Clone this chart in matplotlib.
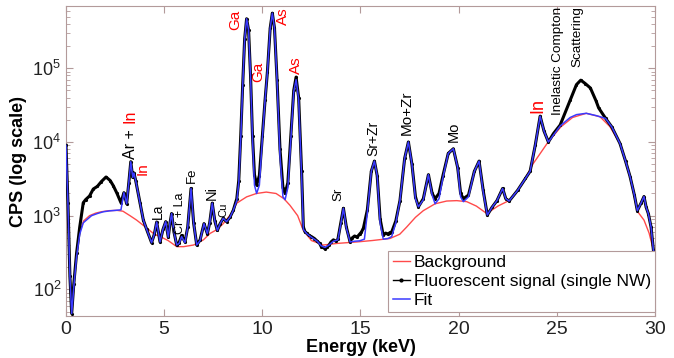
import matplotlib
matplotlib.use("Agg")
import matplotlib.pyplot as plt
from matplotlib.ticker import LogLocator, NullFormatter, MultipleLocator

plt.rcParams['font.family'] = ['Liberation Sans', 'DejaVu Sans']

# measured spectrum (energy in keV, counts per second)
signal_e = [0.00, 0.10, 0.20, 0.29, 0.40, 0.54, 0.70, 0.88, 1.00, 1.20, 1.39, 1.60, 1.80, 2.04,
            2.25, 2.41, 2.60, 2.80, 2.95, 3.09, 3.20, 3.30, 3.40, 3.46, 3.55, 3.77, 3.94, 4.11,
            4.36, 4.50, 4.62, 4.79, 4.94, 5.08, 5.21, 5.30, 5.38, 5.50, 5.64, 5.76, 5.89, 6.06,
            6.20, 6.37, 6.50, 6.66, 6.83, 7.03, 7.20, 7.32, 7.45, 7.58, 7.71, 7.85, 8.01, 8.18,
            8.35, 8.52, 8.70, 8.80, 8.90, 9.00, 9.10, 9.20, 9.30, 9.40, 9.50, 9.60, 9.71, 9.85,
            10.00, 10.14, 10.26, 10.40, 10.51, 10.62, 10.75, 10.90, 11.05, 11.16, 11.30, 11.45,
            11.60, 11.72, 11.85, 12.00, 12.09, 12.18, 12.26, 12.38, 12.50, 12.65, 12.80, 12.92,
            13.00, 13.10, 13.19, 13.30, 13.40, 13.50, 13.62, 13.75, 13.85, 14.00, 14.13, 14.28,
            14.47, 14.58, 14.70, 14.82, 14.95, 15.05, 15.15, 15.35, 15.55, 15.71, 15.85, 16.00,
            16.16, 16.28, 16.40, 16.50, 16.59, 16.80, 17.01, 17.25, 17.44, 17.62, 17.80, 17.95,
            18.20, 18.46, 18.65, 18.80, 19.00, 19.20, 19.47, 19.73, 19.95, 20.10, 20.24, 20.50,
            20.80, 21.04, 21.25, 21.46, 21.70, 21.95, 22.24, 22.40, 22.57, 23.00, 23.40, 23.64,
            23.90, 24.15, 24.35, 24.57, 24.83, 25.17, 25.68, 26.00, 26.22, 26.45, 26.71, 27.00,
            27.13, 27.48, 27.80, 28.22, 28.50, 28.73, 28.95, 29.10, 29.30, 29.44, 29.55, 29.66,
            29.80, 29.92, 30.00]
signal_cps = [9000, 1500, 150, 47, 120, 310, 700, 1500, 1650, 1850, 2300, 2500, 2900, 3350,
              3000, 2550, 2000, 1500, 2050, 1450, 2800, 5400, 3300, 3800, 3000, 1500, 870, 650,
              430, 560, 820, 440, 650, 830, 510, 800, 1070, 600, 400, 430, 540, 440,
              700, 2340, 800, 400, 470, 780, 570, 800, 1480, 850, 630, 780, 920, 830,
              950, 1180, 1700, 3000, 12000, 60000, 250000, 470000, 330000, 80000, 12000, 3600, 2600, 3500,
              12000, 37000, 90000, 350000, 560000, 350000, 70000, 8000, 2400, 2000, 2800, 12000,
              50000, 76000, 40000, 4000, 700, 600, 580, 540, 520, 490, 450, 420,
              380, 370, 355, 370, 400, 440, 470, 450, 480, 800, 1260, 700,
              440, 500, 530, 510, 560, 600, 680, 1200, 4000, 5500, 3500, 900,
              540, 580, 560, 590, 600, 850, 1600, 6000, 10000, 5000, 1800, 1320,
              1700, 3600, 2000, 1700, 2000, 3500, 7000, 8100, 4500, 2000, 1700, 1900,
              4000, 5500, 2200, 1020, 1300, 1600, 2340, 1700, 1580, 2200, 3200, 4000,
              9000, 22400, 14000, 10000, 13000, 17000, 37000, 60000, 69000, 62000, 54000, 36000,
              29000, 21000, 16000, 9500, 5500, 3400, 1900, 1170, 1500, 1820, 1300, 1070,
              700, 340, 300]

# fitted spectrum
fit_e = [0.00, 0.10, 0.20, 0.29, 0.40, 0.54, 0.70, 0.88, 1.06, 1.30, 1.60, 1.90, 2.20, 2.50,
         2.80, 2.95, 3.09, 3.20, 3.30, 3.40, 3.46, 3.55, 3.77, 3.94, 4.11, 4.36, 4.50, 4.62,
         4.79, 4.94, 5.08, 5.21, 5.30, 5.38, 5.50, 5.64, 5.76, 5.89, 6.06, 6.20, 6.37, 6.50,
         6.66, 6.83, 7.03, 7.20, 7.32, 7.45, 7.58, 7.71, 7.85, 8.01, 8.18, 8.35, 8.52, 8.70,
         8.80, 8.90, 9.00, 9.10, 9.20, 9.30, 9.40, 9.50, 9.60, 9.71, 9.85, 10.00, 10.14, 10.26,
         10.40, 10.51, 10.62, 10.75, 10.90, 11.05, 11.16, 11.30, 11.45, 11.60, 11.72, 11.85,
         12.00, 12.09, 12.26, 12.50, 12.80, 13.00, 13.19, 13.40, 13.62, 13.85, 14.00, 14.13,
         14.28, 14.47, 14.70, 14.95, 15.20, 15.35, 15.55, 15.71, 15.85, 16.00, 16.16, 16.40,
         16.59, 16.80, 17.01, 17.25, 17.44, 17.62, 17.80, 17.95, 18.20, 18.46, 18.65, 18.80,
         19.00, 19.20, 19.47, 19.73, 19.95, 20.10, 20.24, 20.50, 20.80, 21.04, 21.25, 21.46,
         21.70, 21.95, 22.24, 22.40, 22.57, 23.00, 23.40, 23.64, 23.90, 24.15, 24.35, 24.57,
         25.17, 25.68, 26.00, 26.50, 27.00, 27.20, 27.48, 27.80, 28.22, 28.50, 28.73, 28.95,
         29.10, 29.30, 29.44, 29.55, 29.66, 29.80, 29.92, 30.00]
fit_cps = [9000, 1500, 150, 47, 110, 280, 560, 800, 880, 1000, 1070, 1130, 1160, 1180,
           1200, 2050, 1450, 2800, 5400, 3300, 3800, 3000, 1500, 870, 650, 430, 560, 820,
           440, 650, 830, 510, 800, 1070, 600, 400, 420, 520, 430, 700, 2340, 800,
           400, 460, 780, 570, 800, 1480, 850, 630, 780, 920, 830, 950, 1180, 1600,
           2800, 11000, 58000, 250000, 470000, 330000, 78000, 11000, 2600, 2000, 2600, 11000, 37000, 90000,
           350000, 560000, 350000, 68000, 6500, 1800, 1650, 2400, 11000, 48000, 70000, 38000,
           3500, 650, 570, 510, 450, 390, 370, 400, 450, 470, 780, 1260,
           680, 440, 450, 455, 480, 1100, 4000, 5500, 3500, 800, 480, 490,
           520, 800, 1600, 6000, 10000, 5000, 1700, 1320, 1650, 3600, 1900, 1450,
           1700, 3300, 7000, 8100, 4500, 1800, 1550, 1800, 4000, 5500, 2100, 1020,
           1300, 1600, 2340, 1700, 1580, 2200, 3200, 4000, 9000, 22400, 14000, 10000,
           16500, 21500, 23500, 24500, 22800, 22000, 20900, 16000, 9500, 5500, 3400, 1900,
           1170, 1500, 1820, 1300, 1070, 700, 340, 300]

# background
bg_e = [0.29, 0.50, 0.70, 0.90, 1.20, 1.50, 1.80, 2.20, 2.60, 2.90, 3.26, 3.60, 4.11, 4.50,
        4.80, 5.20, 5.64, 6.00, 6.50, 7.00, 7.34, 7.70, 8.01, 8.40, 8.70, 9.20, 9.70, 10.20,
        10.70, 11.10, 11.41, 11.80, 12.09, 12.50, 13.11, 13.80, 14.81, 15.60, 16.50, 17.00,
        17.35, 17.80, 18.20, 18.80, 19.39, 19.90, 20.41, 20.90, 21.43, 22.00, 22.60, 23.20,
        23.80, 24.50, 25.20, 25.80, 26.50, 27.20, 27.70, 28.22, 28.73, 29.10, 29.44, 29.70,
        29.92]
bg_cps = [47, 250, 600, 850, 1000, 1080, 1130, 1170, 1180, 1150, 1000, 870, 680, 560,
          520, 460, 380, 380, 400, 470, 575, 650, 780, 1050, 1480, 1800, 2000, 2090,
          2000, 1700, 1380, 1000, 630, 460, 400, 420, 440, 460, 490, 560,
          700, 950, 1170, 1450, 1580, 1600, 1550, 1350, 1070, 1350, 1620, 2600,
          5100, 9500, 16000, 21500, 24500, 22000, 16200, 9500, 3400, 1150, 870, 580,
          340]

# peak labels: (energy, cps at text bottom, text, colour, size)
labels = [
    (3.27, 5900, 'Ar +', 'black', 11.5),
    (3.27, 18000, 'In', 'red', 11.5),
    (3.92, 3550, 'In', 'red', 11),
    (4.70, 900, 'La', 'black', 10),
    (5.80, 560, 'Cr + La', 'black', 9),
    (6.40, 2760, 'Fe', 'black', 9.5),
    (7.40, 1650, 'Ni', 'black', 10.5),
    (8.00, 960, 'Cu', 'black', 8),
    (8.60, 330000, 'Ga', 'red', 11),
    (9.80, 64700, 'Ga', 'red', 11),
    (11.07, 388000, 'As', 'red', 11),
    (11.72, 83000, 'As', 'red', 11),
    (13.90, 1600, 'Sr', 'black', 9.5),
    (15.65, 6500, 'Sr+Zr', 'black', 10),
    (17.35, 12500, 'Mo+Zr', 'black', 11),
    (19.73, 9900, 'Mo', 'black', 10.5),
    (24.05, 24700, 'In', 'red', 13),
    (25.07, 23200, 'Inelastic Compton', 'black', 9.7),
    (26.05, 104000, 'Scattering', 'black', 9.7),
]

frame = '#b39a9a'

fig = plt.figure(figsize=(6.74, 3.58), dpi=100)
ax = fig.add_axes([0.0979, 0.1173, 0.8739, 0.8659])

ax.plot(bg_e, bg_cps, color='#ff4a4a', lw=1.0, label='Background', zorder=2)
ax.plot(signal_e, signal_cps, color='black', lw=2.2, marker='.', ms=2.5,
        label='Fluorescent signal (single NW)', zorder=3)
ax.plot(fit_e, fit_cps, color='#3a3aff', lw=1.1, label='Fit', zorder=4)

ax.set_yscale('log')
ax.set_xlim(0, 30)
ax.set_ylim(43.5, 7.0e5)
ax.xaxis.set_major_locator(MultipleLocator(5))
ax.yaxis.set_major_locator(LogLocator(base=10, numticks=10))
ax.yaxis.set_minor_locator(LogLocator(base=10, subs=range(2, 10), numticks=10))
ax.yaxis.set_minor_formatter(NullFormatter())

for s in ax.spines.values():
    s.set_color(frame)
ax.tick_params(which='both', direction='in', top=True, right=True, color=frame,
               labelcolor='#222222')
ax.tick_params(axis='x', labelsize=14)
ax.tick_params(axis='y', labelsize=13)
ax.tick_params(which='major', length=5)
ax.tick_params(which='minor', length=3)

ax.set_xlabel('Energy (keV)', fontsize=13, fontweight='bold', labelpad=1)
ax.set_ylabel('CPS (log scale)', fontsize=13, fontweight='bold')
ax.yaxis.set_label_coords(-0.066, 0.5)

for e, c, txt, col, size in labels:
    ax.text(e, c, txt, rotation=90, ha='center', va='bottom', color=col,
            fontsize=size, zorder=5)

leg = ax.legend(loc='lower right', bbox_to_anchor=(1.0, 0.013), borderaxespad=0,
                fontsize=12.5, handlelength=1.0, handletextpad=0.2,
                labelspacing=0.2, borderpad=0.25, fancybox=False, framealpha=1)
leg.get_frame().set_edgecolor(frame)
leg.get_frame().set_linewidth(0.8)
leg.legend_handles[1].set_linewidth(1.0)
leg.legend_handles[1].set_markersize(4)

fig.savefig('out.png', dpi=100)
